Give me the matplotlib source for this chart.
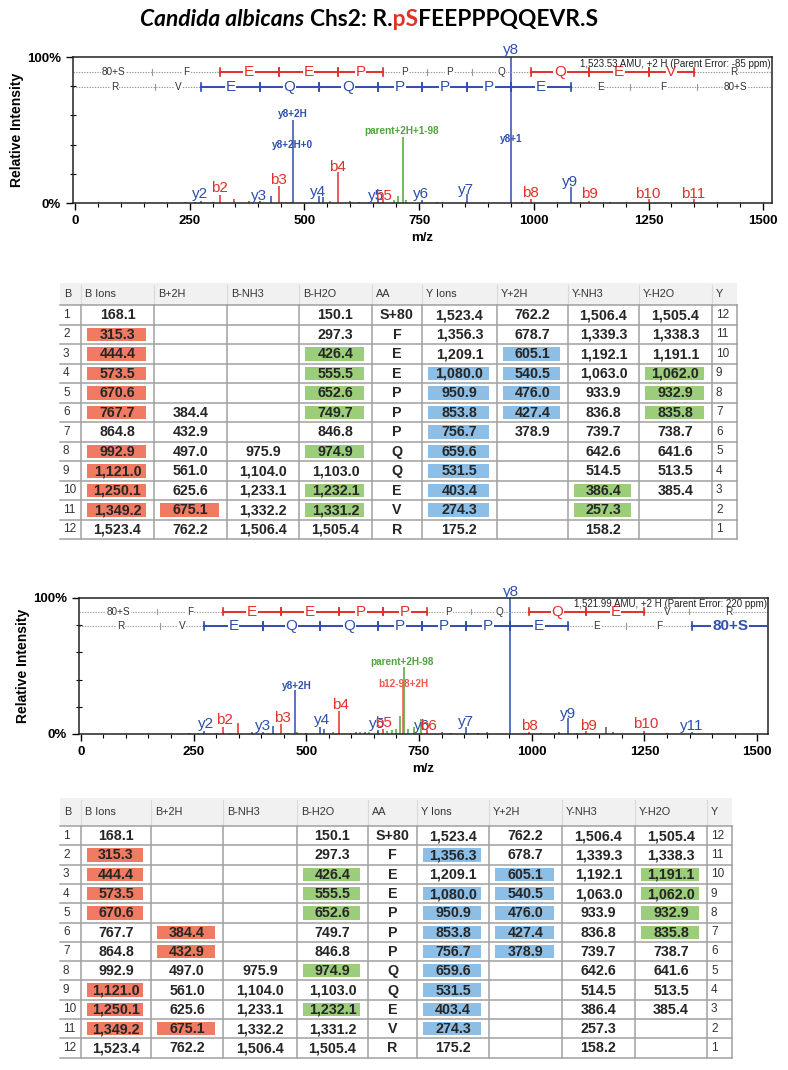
import matplotlib
matplotlib.use("Agg")
import matplotlib.pyplot as plt
from matplotlib.patches import Rectangle
from matplotlib.transforms import Bbox

# ----------------------------------------------------------------------------
# Data
# ----------------------------------------------------------------------------

# peaks: (m/z, relative intensity %, ion kind)
top_peaks = [
    (950.9, 100, "y"), (476.0, 57, "y"), (714, 45, "g"), (573.5, 21, "b"),
    (444.4, 11.5, "b"), (315.3, 5.5, "b"), (1080.0, 11, "y"), (853.8, 6, "y"),
    (531.5, 4.5, "y"), (541, 4, "y"), (427, 5, "y"), (403.4, 1.5, "y"),
    (274.3, 1.5, "y"), (659.6, 3, "y"), (670.6, 3, "b"), (756.7, 2, "y"),
    (992.9, 3, "b"), (1121.0, 1.5, "b"), (1250.1, 3, "b"), (1349.2, 3, "b"),
    (347, 3, "b"), (380, 1.5, "b"), (705, 5, "g"), (695, 2, "g"), (722, 2, "g"),
    (300, 1, "g"), (460, 1, "g"), (470, 1, "g"), (555, 1.5, "g"),
    (240, 1, "k"), (262, 0.8, "k"), (600, 1.5, "k"), (620, 1, "k"),
    (640, 1, "k"), (790, 1, "k"), (975, 1, "k"), (1165, 1, "k"),
]
bottom_peaks = [
    (950.9, 100, "y"), (476.0, 32, "y"), (715, 36, "r"), (716.5, 49, "g"),
    (573.5, 17, "b"), (444.4, 7, "b"), (315.3, 5, "b"), (349, 8, "b"),
    (531.5, 5, "y"), (540, 4, "y"), (427, 6, "y"), (403.4, 1.5, "y"),
    (274.3, 2, "y"), (853.8, 5.5, "y"), (1080.0, 12, "y"),
    (708, 13, "g"), (700, 4, "g"), (690, 3, "g"), (725, 4, "g"), (740, 5, "g"),
    (680, 2, "g"), (660, 2, "g"), (640, 1.5, "g"), (620, 1.5, "g"),
    (600, 1, "g"), (560, 1.5, "g"), (480, 1.5, "g"), (460, 1, "g"),
    (300, 1, "g"), (330, 1, "g"), (755, 11, "g"), (767.7, 3, "b"),
    (670.6, 4, "b"), (659.6, 3, "y"), (992.9, 1.5, "b"), (1121.0, 2, "b"),
    (1250.1, 2, "b"), (1356.3, 1.5, "y"),
    (1165, 5, "k"), (1180, 1.5, "k"), (1060, 1.5, "k"), (1100, 1, "k"),
    (900, 1.5, "k"), (880, 1, "k"), (820, 1, "k"), (800, 1.5, "k"),
    (1020, 1, "k"), (1300, 1, "k"), (1400, 0.8, "k"), (240, 1, "k"),
    (260, 1, "k"), (380, 1.5, "k"), (500, 1, "k"), (610, 1.5, "k"),
    (630, 1.5, "k"),
]

# peak labels: (text, m/z, label height %, kind, size)
top_labels = [
    ("y2", 272, 6, "y", "L"), ("b2", 315, 10, "b", "L"), ("y3", 402, 5, "y", "L"),
    ("b3", 444, 16, "b", "L"), ("y8+2H", 475, 61, "y", "S"),
    ("y8+2H+0", 475, 40, "y", "S"), ("y4", 530, 7.6, "y", "L"),
    ("b4", 572, 25, "b", "L"), ("parent+2H+1-98", 712, 49, "g", "S"),
    ("y5", 657, 5, "y", "L"), ("b5", 672, 5, "b", "L"), ("y6", 755, 6, "y", "L"),
    ("y7", 853, 9, "y", "L"), ("y8", 950, 104.5, "y", "L"),
    ("y8+1", 950, 44, "y", "S"), ("b8", 992, 7, "b", "L"),
    ("y9", 1078, 14.5, "y", "L"), ("b9", 1122, 6, "b", "L"),
    ("b10", 1249, 6.5, "b", "L"), ("b11", 1347, 6.5, "b", "L"),
]
bottom_labels = [
    ("y2", 278, 7, "y", "L"), ("b2", 319, 10, "b", "L"), ("y3", 405, 6, "y", "L"),
    ("b3", 447, 12, "b", "L"), ("y8+2H", 480, 35, "y", "S"),
    ("y4", 535, 10, "y", "L"), ("b4", 576, 21.6, "b", "L"),
    ("parent+2H-98", 713, 53, "g", "S"), ("b12-98+2H", 716, 37, "r", "S"),
    ("y5", 658, 7.5, "y", "L"), ("b5", 672, 8, "b", "L"),
    ("y6", 757, 5.7, "y", "L"), ("b6", 772, 5.7, "b", "L"),
    ("y7", 855, 8.7, "y", "L"), ("y8", 953, 104.7, "y", "L"),
    ("b8", 996, 5.7, "b", "L"), ("y9", 1081, 15, "y", "L"),
    ("b9", 1125, 5.7, "b", "L"), ("b10", 1252, 7, "b", "L"),
    ("y11", 1355, 5.7, "y", "L"),
]

# sequence ladders
b_edges = [0, 168.1, 315.3, 444.4, 573.5, 670.6, 767.7, 864.8, 992.9,
           1121.0, 1250.1, 1349.2, 1523.4]
b_letters = ["80+S", "F", "E", "E", "P", "P", "P", "Q", "Q", "E", "V", "R"]
y_edges = [0, 175.2, 274.3, 403.4, 531.5, 659.6, 756.7, 853.8, 950.9,
           1080.0, 1209.1, 1356.3, 1523.4]
y_letters = ["R", "V", "E", "Q", "Q", "P", "P", "P", "E", "E", "F", "80+S"]
top_b_matched = [2, 3, 4, 8, 9, 10]
top_y_matched = [2, 3, 4, 5, 6, 7, 8]
bottom_b_matched = [2, 3, 4, 5, 8, 9]
bottom_y_matched = [2, 3, 4, 5, 6, 7, 8, 11]

top_note = "1,523.53 AMU, +2 H (Parent Error: -85 ppm)"
bottom_note = "1,521.99 AMU, +2 H (Parent Error: 220 ppm)"

# title
title_species = "Candida albicans"
title_prefix = "Chs2: R."
title_site = "pS"
title_suffix = "FEEPPPQQEVR.S"

# fragment table
headers = ["B", "B Ions", "B+2H", "B-NH3", "B-H2O", "AA", "Y Ions", "Y+2H",
           "Y-NH3", "Y-H2O", "Y"]
b_ions = ["168.1", "315.3", "444.4", "573.5", "670.6", "767.7", "864.8",
          "992.9", "1,121.0", "1,250.1", "1,349.2", "1,523.4"]
b_2h = ["", "", "", "", "", "384.4", "432.9", "497.0", "561.0", "625.6",
        "675.1", "762.2"]
b_nh3 = ["", "", "", "", "", "", "", "975.9", "1,104.0", "1,233.1",
         "1,332.2", "1,506.4"]
b_h2o = ["150.1", "297.3", "426.4", "555.5", "652.6", "749.7", "846.8",
         "974.9", "1,103.0", "1,232.1", "1,331.2", "1,505.4"]
amino = ["S+80", "F", "E", "E", "P", "P", "P", "Q", "Q", "E", "V", "R"]
y_ions = ["1,523.4", "1,356.3", "1,209.1", "1,080.0", "950.9", "853.8",
          "756.7", "659.6", "531.5", "403.4", "274.3", "175.2"]
y_2h = ["762.2", "678.7", "605.1", "540.5", "476.0", "427.4", "378.9",
        "", "", "", "", ""]
y_nh3 = ["1,506.4", "1,339.3", "1,192.1", "1,063.0", "933.9", "836.8",
         "739.7", "642.6", "514.5", "386.4", "257.3", "158.2"]
y_h2o = ["1,505.4", "1,338.3", "1,191.1", "1,062.0", "932.9", "835.8",
         "738.7", "641.6", "513.5", "385.4", "", ""]

# highlighted rows (1-based) per column, for each table
top_marks = {
    "B Ions": [2, 3, 4, 5, 6, 8, 9, 10, 11], "B+2H": [11],
    "B-H2O": [3, 4, 5, 6, 8, 10, 11], "Y Ions": [4, 5, 6, 7, 8, 9, 10, 11],
    "Y+2H": [3, 4, 5, 6], "Y-NH3": [10, 11], "Y-H2O": [4, 5, 6],
}
bottom_marks = {
    "B Ions": [2, 3, 4, 5, 9, 10, 11], "B+2H": [6, 7, 11],
    "B-H2O": [3, 4, 5, 8, 10], "Y Ions": [2, 4, 5, 6, 7, 8, 9, 10, 11],
    "Y+2H": [3, 4, 5, 6, 7], "Y-NH3": [], "Y-H2O": [3, 4, 5, 6],
}

# ----------------------------------------------------------------------------
# Styling
# ----------------------------------------------------------------------------

W, H = 788, 1070
FONT = "Liberation Sans"
plt.rcParams["font.family"] = FONT

RED = "#e0312a"
BLUE = "#2d4fae"
GREEN = "#4ea53b"
COLORS = {"b": RED, "y": BLUE, "g": GREEN, "r": "#ee5a48", "k": "#555555"}
MARK_COLORS = {"B": "#f07a62", "Y": "#8dbfe6", "G": "#9bcd7a"}

fig = plt.figure(figsize=(W / 100, H / 100), dpi=100)
ov = fig.add_axes([0, 0, 1, 1])
ov.set_xlim(0, W)
ov.set_ylim(H, 0)
ov.axis("off")


def px_axes(left, top, right, bottom):
    return fig.add_axes([left / W, 1 - bottom / H, (right - left) / W,
                         (bottom - top) / H])


def draw_ladder(ax, ypos, edges, letters, matched, color, xend):
    xstart = ax.get_xlim()[0]
    ax.plot([xstart, xend], [ypos, ypos], color="#9a9a9a", lw=0.8,
            ls=(0, (1.2, 1.2)), zorder=2)
    for e in edges[1:-1]:
        ax.plot([e, e], [ypos - 2, ypos + 2], color="#9a9a9a", lw=0.8, zorder=2)
    for i, let in enumerate(letters):
        x0, x1 = edges[i], edges[i + 1]
        mid = (x0 + x1) / 2
        if i in matched:
            x1e = xend if i == len(letters) - 1 else x1
            ax.plot([x0, x1e], [ypos, ypos], color=color, lw=1.4, zorder=3)
            for e in (x0, x1):
                ax.plot([e, e], [ypos - 2.8, ypos + 2.8], color=color, lw=1.2,
                        zorder=3)
            ax.text(mid, ypos, let, color=color, fontsize=11,
                    fontweight="bold" if len(let) > 1 else "normal",
                    ha="center", va="center", zorder=4,
                    bbox=dict(fc="white", ec="none", pad=0.6))
        else:
            ax.text(mid, ypos, let, color="#333333", fontsize=7.2,
                    ha="center", va="center", zorder=4,
                    bbox=dict(fc="white", ec="none", pad=0.6))


def draw_spectrum(ax, peaks, labels, b_match, y_match, note, xmax):
    ax.set_xlim(-4, xmax)
    ax.set_ylim(0, 100)
    for kind in ["k", "g", "r", "b", "y"]:
        pk = [p for p in peaks if p[2] == kind]
        if not pk:
            continue
        ax.vlines([p[0] for p in pk], 0, [p[1] for p in pk],
                  color=COLORS[kind], lw=1.1, zorder=2)
    for text, mz, yl, kind, size in labels:
        ax.text(mz, yl, text, color=COLORS[kind],
                fontsize=11 if size == "L" else 7.2,
                fontweight="normal" if size == "L" else "bold",
                ha="center", va="center", clip_on=False, zorder=5)
    draw_ladder(ax, 90, b_edges, b_letters, b_match, RED, xmax)
    draw_ladder(ax, 79.5, y_edges, y_letters, y_match, BLUE, xmax)
    ax.text(0.998, 95.5, note, transform=ax.get_yaxis_transform(),
            ha="right", va="center", fontsize=7, color="#222222", zorder=5)

    ax.set_xticks(range(0, 1501, 250))
    ax.set_xticks(range(0, 1501, 50), minor=True)
    ax.set_yticks([0, 100])
    ax.set_yticklabels(["0%", "100%"])
    ax.set_yticks([20, 40, 60, 80], minor=True)
    ax.tick_params(axis="both", which="major", labelsize=9.5, length=5,
                   width=1, direction="out")
    ax.tick_params(axis="x", which="minor", length=3, width=0.8,
                   direction="out")
    ax.tick_params(axis="y", which="minor", length=4, width=0.8,
                   direction="inout")
    for lab in ax.get_xticklabels() + ax.get_yticklabels():
        lab.set_fontweight("bold")
    for sp in ax.spines.values():
        sp.set_linewidth(1.1)
        sp.set_color("#222222")
    ax.set_xlabel("m/z", fontsize=9.5, fontweight="bold", labelpad=4)
    ax.set_ylabel("Relative Intensity", fontsize=10, fontweight="bold",
                  labelpad=2)


def draw_table(cols, top, head_h, row_h, marks):
    columns = [b_ions, b_2h, b_nh3, b_h2o, amino, y_ions, y_2h, y_nh3, y_h2o]
    mark_kind = {"B Ions": "B", "B+2H": "B", "B-H2O": "G", "Y Ions": "Y",
                 "Y+2H": "Y", "Y-NH3": "G", "Y-H2O": "G"}
    left, right = cols[0], cols[-1]
    ov.add_patch(Rectangle((left, top), right - left, head_h, fc="#f1f1f1",
                           ec="none"))
    for x in cols[1:-1]:
        ov.plot([x, x], [top + 2, top + head_h - 1], color="#dadada", lw=0.8)
    for j, name in enumerate(headers):
        ov.text(cols[j] + 4, top + head_h / 2, name, fontsize=7.8,
                color="#333333", va="center", ha="left")
    y0 = top + head_h
    yb = y0 + 12 * row_h
    for i in range(13):
        ov.plot([left, right], [y0 + i * row_h] * 2, color="#a0a0a0", lw=1.1)
    for x in cols[1:]:
        ov.plot([x, x], [y0, yb], color="#a0a0a0", lw=1.1)
    for i in range(12):
        yc = y0 + (i + 0.5) * row_h
        ov.text(left + 3, yc, str(i + 1), fontsize=8.5, color="#333333",
                va="center", ha="left")
        ov.text(cols[10] + 4, yc, str(12 - i), fontsize=8.5, color="#333333",
                va="center", ha="left")
        for j, vals in enumerate(columns):
            name = headers[j + 1]
            x0, x1 = cols[j + 1], cols[j + 2]
            if (i + 1) in marks.get(name, []):
                ov.add_patch(Rectangle((x0 + 6, y0 + i * row_h + 3),
                                       x1 - x0 - 14, row_h - 6,
                                       fc=MARK_COLORS[mark_kind[name]],
                                       ec="none"))
            ov.text((x0 + x1) / 2, yc + 0.5, vals[i], fontsize=10.3,
                    fontweight="bold", color="#262626", ha="center",
                    va="center")


# ----------------------------------------------------------------------------
# Title: one string drawn three times, each copy clipped to its colour band
# ----------------------------------------------------------------------------

TITLE_KW = dict(fontsize=16.4, fontweight="bold", family="Lato",
                va="center", ha="left")
renderer = fig.canvas.get_renderer()


def ink_width(txt, style):
    t = ov.text(0, 0, txt, style=style, **TITLE_KW)
    w = t.get_window_extent(renderer).width
    t.remove()
    return w


rest = title_prefix + title_site + title_suffix
w_species = ink_width(title_species, "italic")
w_rest = ink_width(rest, "normal")
w_pre = ink_width(title_prefix, "normal")
w_pre_site = ink_width(title_prefix + title_site, "normal")
gap = 6
x0 = 369 - (w_species + gap + w_rest) / 2
ov.text(x0, 19, title_species, style="italic", color="black", **TITLE_KW)
xr = x0 + w_species + gap
cuts = [xr - 6, xr + w_pre + 1.2, xr + w_pre_site + 0.8, xr + w_rest + 12]
for (c0, c1), col in zip(zip(cuts[:-1], cuts[1:]), ["black", RED, "black"]):
    t = ov.text(xr, 19, rest, style="normal", color=col, clip_on=True,
                **TITLE_KW)
    t.set_clip_path(None)
    t.set_clip_box(Bbox([[c0, 0], [c1, H]]))

# ----------------------------------------------------------------------------
# Spectra and tables
# ----------------------------------------------------------------------------

ax1 = px_axes(73, 57, 772, 203)
draw_spectrum(ax1, top_peaks, top_labels, top_b_matched, top_y_matched,
              top_note, 1519)
ax2 = px_axes(79, 598, 768, 734)
draw_spectrum(ax2, bottom_peaks, bottom_labels, bottom_b_matched,
              bottom_y_matched, bottom_note, 1524)

draw_table([60, 81, 154, 227, 299, 372, 422, 497, 568, 639, 712, 737],
           283, 22, 19.5, top_marks)
draw_table([60, 81, 151, 223, 297, 368, 417, 489, 562, 635, 707, 732],
           798, 28, 19.3, bottom_marks)

fig.savefig("out.png", dpi=100)
